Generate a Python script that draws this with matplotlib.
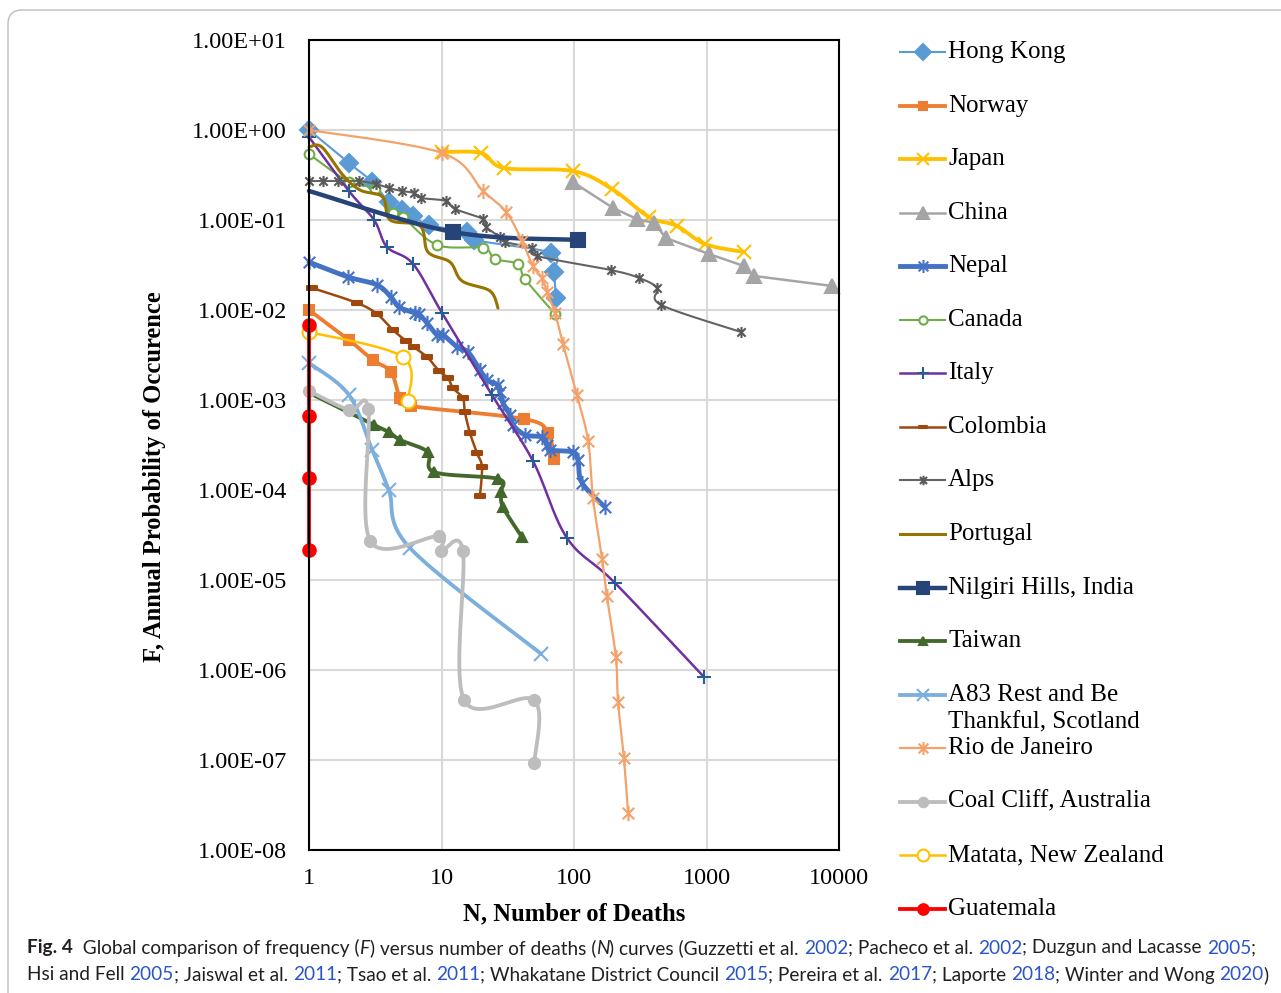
import numpy as np
import matplotlib
matplotlib.use("Agg")
import matplotlib.pyplot as plt
from matplotlib.path import Path
from matplotlib.lines import Line2D
from matplotlib.patches import FancyBboxPatch
from matplotlib.ticker import FixedLocator, FuncFormatter, NullLocator

# ---- data: N (deaths) and F (annual probability) ----
hk_n = [1, 2, 3, 4, 5, 6.1, 8, 15.6, 17.6, 67, 70.6, 73]
hk_f = [1.0, 0.43, 0.265, 0.158, 0.129, 0.111, 0.088, 0.0736, 0.06, 0.043, 0.0264, 0.0136]

norway_n = [1, 2, 3.04, 4.16, 4.86, 5.89, 42, 63.6, 70.6]
norway_f = [0.01, 0.00464, 0.00278, 0.00205, 0.00105, 0.000858, 0.000615, 0.00043, 0.000221]

japan_n = [10, 19.9, 29.6, 98, 194, 368, 599, 975, 1919]
japan_f = [0.57, 0.555, 0.378, 0.35, 0.221, 0.108, 0.0858, 0.054, 0.0441]

china_n = [98, 197, 299, 402, 495, 1045, 1919, 2282, 8850]
china_f = [0.264, 0.136, 0.1026, 0.0926, 0.063, 0.0419, 0.0308, 0.0239, 0.0185]

nepal_n = [1, 1.97, 3.26, 4.16, 4.78, 6.31, 6.76, 7.78, 9.25, 10.3, 13.1, 15.85, 19.5,
           22.0, 26.7, 27.6, 29.1, 32.9, 34.7, 42.7, 57.3, 62.5, 65.9, 98, 107, 115, 171]
nepal_f = [0.0341, 0.0233, 0.019, 0.0139, 0.0108, 0.00926, 0.00903, 0.00718, 0.00528,
           0.00528, 0.00388, 0.00341, 0.00216, 0.00167, 0.00147, 0.00123, 0.000926,
           0.000681, 0.000528, 0.000409, 0.000388, 0.000316, 0.000278, 0.000264,
           0.000215, 0.00012, 0.0000647]

canada_n = [1, 2, 3.15, 4.3, 5.1, 9.25, 20.6, 25.3, 37.8, 42.7, 71.9]
canada_f = [0.54, 0.265, 0.221, 0.12, 0.108, 0.0528, 0.0489, 0.0369, 0.0325, 0.0221, 0.00903]

italy_n = [1, 2, 3.1, 3.88, 6.1, 10.1, 24, 49, 88.5, 204, 957]
italy_f = [0.836, 0.21, 0.1, 0.0501, 0.0325, 0.00926, 0.00114, 0.00021, 2.93e-5, 9.26e-6, 8.36e-7]

colombia_n = [1.05, 2.3, 3.26, 4.3, 5.4, 6.2, 7.8, 9.6, 11.2, 12.2, 14.5, 15.0, 16.4, 18.5, 20.2, 19.5]
colombia_f = [0.0176, 0.012, 0.00903, 0.006, 0.00453, 0.00388, 0.003, 0.0021, 0.00175,
              0.00136, 0.00105, 0.000736, 0.00043, 0.000258, 0.00018, 8.58e-5]

alps_n = [1, 1.28, 1.65, 2.38, 3.2, 4.0, 5.0, 6.2, 7.0, 10.8, 12.6, 20.6, 21.7, 27.6,
          30.1, 48.2, 52.6, 190, 310, 423, 454, 1820]
alps_f = [0.271, 0.271, 0.271, 0.271, 0.251, 0.227, 0.21, 0.2, 0.176, 0.163, 0.133,
          0.1026, 0.0836, 0.0648, 0.057, 0.0489, 0.0398, 0.0278, 0.0227, 0.0176, 0.0114, 0.0057]

portugal_n = [1, 1.25, 1.8, 2.43, 3.6, 4.1, 6.9, 7.9, 11.6, 14.3, 23.2, 26.7]
portugal_f = [0.647, 0.647, 0.316, 0.215, 0.18, 0.1, 0.0858, 0.0441, 0.0341, 0.021, 0.0163, 0.0105]

nilgiri_n = [1, 12.2, 107]
nilgiri_f = [0.21, 0.0736, 0.06]

taiwan_n = [1, 3.1, 4.0, 4.9, 7.9, 8.8, 26.7, 28.1, 29.1, 40.5]
taiwan_f = [0.0012, 0.000528, 0.000441, 0.000359, 0.000264, 0.000158, 0.000133, 9.5e-5, 6.47e-5, 3.0e-5]

a83_n = [1, 2, 3, 4, 5.78, 56.4]
a83_f = [0.00258, 0.00114, 0.000278, 0.0001, 2.27e-5, 1.51e-6]

rio_n = [1, 10.1, 20.6, 30.7, 40.5, 49, 57.3, 62.5, 71.9, 82.6, 105, 128, 139, 163,
         177, 207, 215, 238, 256]
rio_f = [1.0, 0.555, 0.21, 0.123, 0.0585, 0.0308, 0.0227, 0.0158, 0.00926, 0.00419,
         0.00114, 0.00035, 8.15e-5, 1.71e-5, 6.64e-6, 1.39e-6, 4.41e-7, 1.05e-7, 2.58e-8]

coal_n = [1, 2, 2.8, 2.9, 9.6, 9.9, 14.5, 14.8, 50, 50]
coal_f = [0.00126, 0.000774, 0.000794, 2.71e-5, 3.08e-5, 2.1e-5, 2.1e-5, 4.64e-7, 4.64e-7, 9.26e-8]

matata_n = [1, 5.12, 5.59]
matata_f = [0.0057, 0.003, 0.000975]

guatemala_n = [1, 1, 1, 1]
guatemala_f = [0.0068, 0.000664, 0.000136, 2.15e-5]

# star marker as drawn by Excel (x with a vertical bar)
STAR = Path([(0, -1), (0, 1), (-0.75, -0.75), (0.75, 0.75), (-0.75, 0.75), (0.75, -0.75)],
            [Path.MOVETO, Path.LINETO] * 3)
# Excel dash marker: short flat bar
DASH = Path([(-1, -0.35), (1, -0.35), (1, 0.35), (-1, 0.35), (-1, -0.35)],
            [Path.MOVETO, Path.LINETO, Path.LINETO, Path.LINETO, Path.CLOSEPOLY])

# name, N, F, line colour, width, marker, size, marker colour, filled, smoothed, first marker shown
series = [
    ("Hong Kong", hk_n, hk_f, "#5B9BD5", 1.5, "D", 9, "#5B9BD5", True, True, True),
    ("Norway", norway_n, norway_f, "#ED7D31", 2.75, "s", 7, "#ED7D31", True, True, True),
    ("Japan", japan_n, japan_f, "#FFC000", 2.75, "x", 10, "#FFC000", True, True, True),
    ("China", china_n, china_f, "#A5A5A5", 1.8, "^", 10, "#A5A5A5", True, False, True),
    ("Nepal", nepal_n, nepal_f, "#4472C4", 3.5, STAR, 11, "#4472C4", True, True, True),
    ("Canada", canada_n, canada_f, "#70AD47", 1.5, "o", 7, "#70AD47", False, True, True),
    ("Italy", italy_n, italy_f, "#7030A0", 1.8, "+", 10, "#255E91", True, True, True),
    ("Colombia", colombia_n, colombia_f, "#9E480E", 1.8, DASH, 7, "#9E480E", True, True, True),
    ("Alps", alps_n, alps_f, "#636363", 1.5, STAR, 8, "#595959", True, True, True),
    ("Portugal", portugal_n, portugal_f, "#997300", 2.2, None, 0, "#997300", True, True, True),
    ("Nilgiri Hills, India", nilgiri_n, nilgiri_f, "#264478", 3.2, "s", 10, "#264478", True, True, False),
    ("Taiwan", taiwan_n, taiwan_f, "#43682B", 2.75, "^", 7, "#43682B", True, True, False),
    ("A83 Rest and Be\nThankful, Scotland", a83_n, a83_f, "#7CAFDD", 2.75, "x", 10, "#7CAFDD", True, True, True),
    ("Rio de Janeiro", rio_n, rio_f, "#F4A16A", 1.6, STAR, 11, "#F4A16A", True, True, True),
    ("Coal Cliff, Australia", coal_n, coal_f, "#BDBDBD", 2.75, "o", 8, "#BDBDBD", True, True, True),
    ("Matata, New Zealand", matata_n, matata_f, "#FFC000", 1.8, "o", 10, "#FFC000", False, True, True),
    ("Guatemala", guatemala_n, guatemala_f, "#FF0000", 2.75, "o", 9, "#FF0000", True, False, True),
]

SX, SY = 132.5, 90.0  # pixels per decade on each axis, for the smoothing only


def smooth(n, f, steps=24):
    # Excel-like smoothed line (Catmull-Rom Bezier) drawn through the read points
    p = np.column_stack([np.log10(n) * SX, np.log10(f) * SY])
    if len(p) < 3:
        return n, f
    out = [p[0]]
    t = np.linspace(0, 1, steps)[1:, None]
    for i in range(len(p) - 1):
        p0 = p[i - 1] if i > 0 else p[i]
        p1, p2 = p[i], p[i + 1]
        p3 = p[i + 2] if i + 2 < len(p) else p[i + 1]
        c1 = p1 + (p2 - p0) / 6
        c2 = p2 - (p3 - p1) / 6
        seg = (1 - t) ** 3 * p1 + 3 * (1 - t) ** 2 * t * c1 + 3 * (1 - t) * t ** 2 * c2 + t ** 3 * p2
        out.extend(seg)
    out = np.array(out)
    return 10 ** (out[:, 0] / SX), 10 ** (out[:, 1] / SY)


W, H = 1281, 993
fig = plt.figure(figsize=(W / 100, H / 100), dpi=100)
ax = fig.add_axes([309 / W, 1 - 850 / H, 530 / W, 810 / H])

SERIF = "Liberation Serif"

for name, n, f, col, lw, mk, ms, mcol, filled, sm, first in series:
    xs, ys = smooth(n, f) if sm else (n, f)
    ax.plot(xs, ys, color=col, lw=lw, solid_capstyle="round", clip_on=False)
    if mk is not None:
        pts = range(0 if first else 1, len(n))
        ax.plot([n[i] for i in pts], [f[i] for i in pts], ls="none", marker=mk, ms=ms,
                mec=mcol, mfc=mcol if filled else "white", mew=1.5, clip_on=False)

ax.set_xscale("log")
ax.set_yscale("log")
ax.set_xlim(1, 10000)
ax.set_ylim(1e-8, 10)
ax.xaxis.set_major_locator(FixedLocator([1, 10, 100, 1000, 10000]))
ax.xaxis.set_major_formatter(FuncFormatter(lambda v, _: f"{v:.0f}"))
ax.yaxis.set_major_locator(FixedLocator([10.0 ** k for k in range(-8, 2)]))
ax.yaxis.set_major_formatter(FuncFormatter(lambda v, _: f"{v:.2E}"))
ax.xaxis.set_minor_locator(NullLocator())
ax.yaxis.set_minor_locator(NullLocator())
ax.grid(True, color="#D9D9D9", lw=1.5)
ax.set_axisbelow(True)
for s in ax.spines.values():
    s.set_color("black")
    s.set_linewidth(1.5)
ax.tick_params(axis="both", length=0, labelsize=17.5)
ax.tick_params(axis="x", pad=13)
ax.tick_params(axis="y", pad=16)
for lab in ax.get_xticklabels() + ax.get_yticklabels():
    lab.set_fontfamily(SERIF)

fig.text(574 / W, 1 - 914 / H, "N, Number of Deaths", ha="center", va="center",
         fontsize=17.7, fontweight="bold", family=SERIF)
fig.text(155 / W, 1 - 477 / H, "F, Annual Probability of Occurence", ha="center", va="center",
         rotation=90, fontsize=17.7, fontweight="bold", family=SERIF)

# legend, one row every 53.6 px
for i, (name, n, f, col, lw, mk, ms, mcol, filled, sm, first) in enumerate(series):
    y = 1 - (52 + i * 53.56) / H
    fig.add_artist(Line2D([900 / W, 945 / W], [y, y], color=col, lw=lw, transform=fig.transFigure))
    if mk is not None:
        fig.add_artist(Line2D([922.5 / W], [y], ls="none", marker=mk, ms=ms * 0.85, mec=mcol,
                              mfc=mcol if filled else "white", mew=1.5, transform=fig.transFigure))
    for j, line in enumerate(name.split("\n")):
        fig.text(948 / W, y - j * 28 / H, line, ha="left", va="center", fontsize=18, family=SERIF)

# frame round the figure
fig.add_artist(FancyBboxPatch((8, -30), 1320, H - 10 + 30, boxstyle="round,pad=0,rounding_size=14",
                              transform=None, fc="none", ec="#BDBDBD", lw=1))

# caption, written run by run
BLUE = "#2A55C8"
CAP = "Lato"
cap1 = [("Fig. 4", dict(fontweight="bold")), ("  Global comparison of frequency (", {}),
        ("F", dict(style="italic")), (") versus number of deaths (", {}), ("N", dict(style="italic")),
        (") curves (Guzzetti et al. ", {}), ("2002", dict(color=BLUE)), ("; Pacheco et al. ", {}),
        ("2002", dict(color=BLUE)), ("; Duzgun and Lacasse ", {}), ("2005", dict(color=BLUE)), (";", {})]
cap2 = [("Hsi and Fell ", {}), ("2005", dict(color=BLUE)), ("; Jaiswal et al. ", {}),
        ("2011", dict(color=BLUE)), ("; Tsao et al. ", {}), ("2011", dict(color=BLUE)),
        ("; Whakatane District Council ", {}), ("2015", dict(color=BLUE)), ("; Pereira et al. ", {}),
        ("2017", dict(color=BLUE)), ("; Laporte ", {}), ("2018", dict(color=BLUE)),
        ("; Winter and Wong ", {}), ("2020", dict(color=BLUE)), (")", {})]

renderer = fig.canvas.get_renderer()


def write_runs(x, y, runs, size):
    for text, kw in runs:
        t = fig.text(x / W, 1 - y / H, text, ha="left", va="center", fontsize=size,
                     family=CAP, color=kw.get("color", "#231F20"),
                     fontweight=kw.get("fontweight", "normal"), style=kw.get("style", "normal"))
        x += t.get_window_extent(renderer=renderer).width


write_runs(27, 948, cap1, 13.7)
write_runs(27, 975, cap2, 13.7)

fig.savefig("out.png", dpi=100)
